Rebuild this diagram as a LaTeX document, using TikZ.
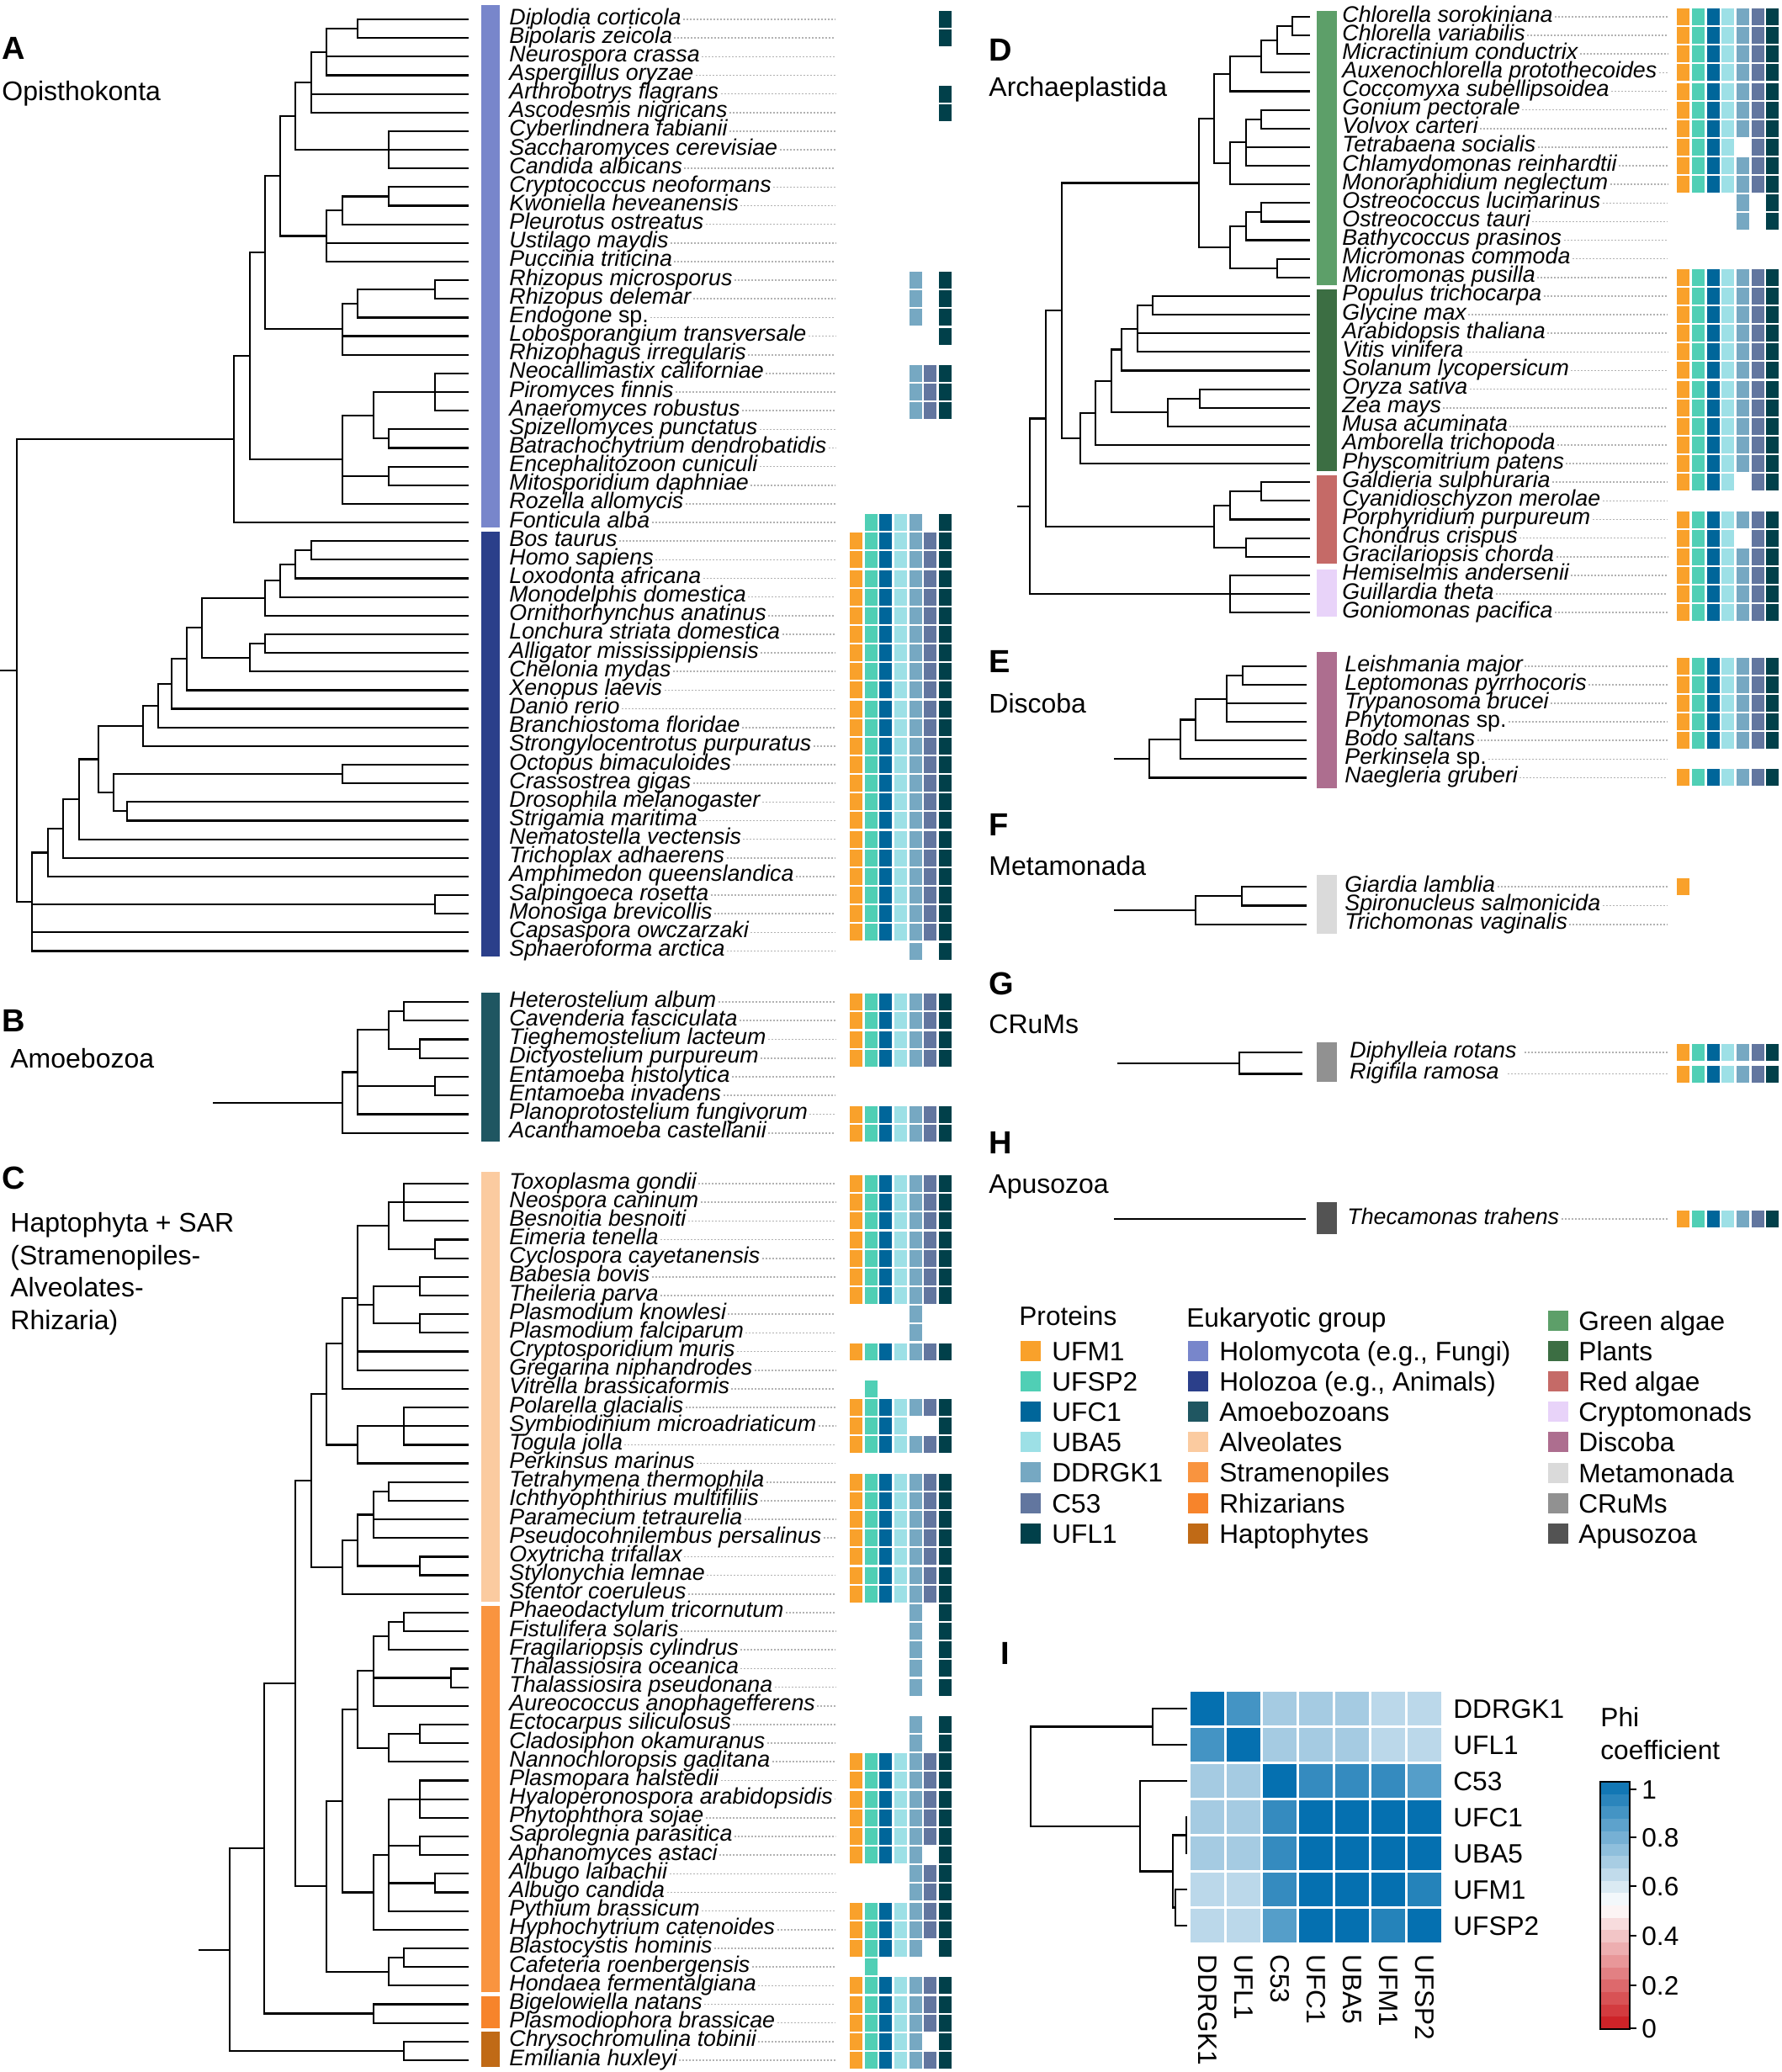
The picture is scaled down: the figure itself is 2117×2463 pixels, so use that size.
\documentclass[tikz,border=0pt]{standalone}
\usepackage{fontspec}
\setmainfont{Liberation Sans}
\usetikzlibrary{calc}
% protein colours
\definecolor{prot0}{HTML}{F9A12B}
\definecolor{prot1}{HTML}{50CFB5}
\definecolor{prot2}{HTML}{00669A}
\definecolor{prot3}{HTML}{9DE0E6}
\definecolor{prot4}{HTML}{76A8C2}
\definecolor{prot5}{HTML}{62769F}
\definecolor{prot6}{HTML}{01404A}
% group colours
\definecolor{grHolo}{HTML}{7886CB}
\definecolor{grZoa}{HTML}{2B3F8A}
\definecolor{grAmoeba}{HTML}{1F5661}
\definecolor{grAlv}{HTML}{FBCBA0}
\definecolor{grStram}{HTML}{F9943F}
\definecolor{grRhiz}{HTML}{F7842B}
\definecolor{grHapto}{HTML}{C06A16}
\definecolor{grGreen}{HTML}{5D9F69}
\definecolor{grPlant}{HTML}{3C6E43}
\definecolor{grRed}{HTML}{C56A67}
\definecolor{grCrypto}{HTML}{E8D3F9}
\definecolor{grDisc}{HTML}{AD6E8F}
\definecolor{grMeta}{HTML}{DADADA}
\definecolor{grCrum}{HTML}{919191}
\definecolor{grApu}{HTML}{535353}
\definecolor{hmblue}{HTML}{0570B0}
\definecolor{hmred}{HTML}{CB181D}
\tikzset{
    branch/.style={draw=black, line width=1.1pt},
    leader/.style={draw=gray!60, line width=0.8pt, dash pattern=on 1pt off 1pt},
    taxon/.style={anchor=base west, inner xsep=1pt, inner ysep=0pt,
        font=\fontsize{13.4}{13.4}\selectfont\itshape},
    panel/.style={anchor=base west, inner sep=0pt, font=\fontsize{19}{19}\selectfont\bfseries},
    grouphead/.style={anchor=base west, inner sep=0pt, font=\fontsize{16}{16}\selectfont},
    legtext/.style={anchor=base west, inner sep=0pt, font=\fontsize{15.8}{15.8}\selectfont}
}
% one presence cell, one row of cells
\newcommand\cellbox[1]{\fill[prot#1] (\cx+#1*17.67,\yy-10) rectangle ++(15,20);}
\newcommand\cellrow[7]{\ifnum#1=1 \cellbox{0}\fi\ifnum#2=1 \cellbox{1}\fi\ifnum#3=1 \cellbox{2}\fi
  \ifnum#4=1 \cellbox{3}\fi\ifnum#5=1 \cellbox{4}\fi\ifnum#6=1 \cellbox{5}\fi\ifnum#7=1 \cellbox{6}\fi}
% taxa: prefix, y0, dy, tip x, label x, leader end, first cell x, list
\newcommand\taxa[8]{%
  \foreach \tx/\bits [count=\i from 0] in {#8}{%
    \pgfmathsetmacro\yy{#2+\i*#3}%
    \coordinate (#1\i) at (#4,\yy);
    \node[taxon] (t#1\i) at (#5,\yy+6) {\tx};
    \draw[leader] (t#1\i.east |- #1\i) -- (#6,\yy);
    \def\cx{#7}%
    \expandafter\cellrow\bits
  }}
% clade: name, x, children
\newcommand\clade[3]{%
  \foreach \cc [count=\n] in {#3}{\ifnum\n=1 \xdef\firstc{\cc}\fi\xdef\lastc{\cc}}%
  \coordinate (#1x) at (#2,0);
  \path (\firstc) -- coordinate[pos=.5] (#1m) (\lastc);
  \coordinate (#1) at (#1x |- #1m);
  \foreach \cc in {#3}{\draw[branch] (#1) |- (\cc);}%
}
\newcommand\stem[2]{\coordinate (#1sx) at (#2,0); \coordinate (#1s) at (#1 -| #1sx); \draw[branch] (#1) -- (#1s);}

\begin{document}
\begin{tikzpicture}[x=0.5pt, y=-0.5pt]
\fill[white] (0,0) rectangle (2117,2463);
\useasboundingbox (0,0) rectangle (2117,2463);

% Panel headings
\node[panel] (pA) at (2,70) {A};
\node[grouphead] (gA) at (2,119) {Opisthokonta};
\node[panel] (pB) at (2,1226) {B};
\node[grouphead] (gB) at (12,1269) {Amoebozoa};
\node[panel] (pC) at (2,1413) {C};
\foreach \t [count=\k from 0] in {{Haptophyta + SAR},{(Stramenopiles-},{Alveolates-},{Rhizaria)}}
  \node[grouphead] (gC\k) at (12,1464.6+\k*38.5) {\t};
\node[panel] (pD) at (1175,72) {D};
\node[grouphead] (gD) at (1175,114) {Archaeplastida};
\node[panel] (pE) at (1175,799) {E};
\node[grouphead] (gE) at (1175,847) {Discoba};
\node[panel] (pF) at (1175,993) {F};
\node[grouphead] (gF) at (1175,1040) {Metamonada};
\node[panel] (pG) at (1175,1182) {G};
\node[grouphead] (gG) at (1175,1228) {CRuMs};
\node[panel] (pH) at (1175,1371) {H};
\node[grouphead] (gH) at (1175,1418) {Apusozoa};
\node[panel] (pI) at (1189,1978) {I};

% Group strips
\fill[grHolo] (572,6) rectangle (594,627);
\fill[grZoa] (572,632) rectangle (594,1137);
\fill[grAmoeba] (572,1180) rectangle (594,1357);
\fill[grAlv] (572,1393) rectangle (594,1904);
\fill[grStram] (572,1909) rectangle (594,2368);
\fill[grRhiz] (572,2373) rectangle (594,2411);
\fill[grHapto] (572,2415) rectangle (594,2457);
\fill[grGreen] (1565,13) rectangle (1589,339);
\fill[grPlant] (1565,344) rectangle (1589,560);
\fill[grRed] (1565,565) rectangle (1589,670);
\fill[grCrypto] (1565,677) rectangle (1589,733);
\fill[grDisc] (1565,775) rectangle (1589,937);
\fill[grMeta] (1565,1040) rectangle (1589,1110);
\fill[grCrum] (1565,1239) rectangle (1589,1286);
\fill[grApu] (1565,1429) rectangle (1589,1467);

% A: Opisthokonta
\taxa{A}{23}{22.15}{557}{603}{993}{1010}{Diplodia corticola/0000001,
Bipolaris zeicola/0000001,
Neurospora crassa/0000000,
Aspergillus oryzae/0000000,
Arthrobotrys flagrans/0000001,
Ascodesmis nigricans/0000001,
Cyberlindnera fabianii/0000000,
Saccharomyces cerevisiae/0000000,
Candida albicans/0000000,
Cryptococcus neoformans/0000000,
Kwoniella heveanensis/0000000,
Pleurotus ostreatus/0000000,
Ustilago maydis/0000000,
Puccinia triticina/0000000,
Rhizopus microsporus/0000101,
Rhizopus delemar/0000101,
Endogone \textup{sp.}/0000101,
Lobosporangium transversale/0000001,
Rhizophagus irregularis/0000000,
Neocallimastix californiae/0000111,
Piromyces finnis/0000111,
Anaeromyces robustus/0000111,
Spizellomyces punctatus/0000000,
Batrachochytrium dendrobatidis/0000000,
Encephalitozoon cuniculi/0000000,
Mitosporidium daphniae/0000000,
Rozella allomycis/0000000,
Fonticula alba/0111101,
Bos taurus/1111111,
Homo sapiens/1111111,
Loxodonta africana/1111111,
Monodelphis domestica/1111111,
Ornithorhynchus anatinus/1111111,
Lonchura striata domestica/1111111,
Alligator mississippiensis/1111111,
Chelonia mydas/1111111,
Xenopus laevis/1111111,
Danio rerio/1111111,
Branchiostoma floridae/1111111,
Strongylocentrotus purpuratus/1111111,
Octopus bimaculoides/1111111,
Crassostrea gigas/1111111,
Drosophila melanogaster/1111111,
Strigamia maritima/1111111,
Nematostella vectensis/1111111,
Trichoplax adhaerens/1111111,
Amphimedon queenslandica/1111111,
Salpingoeca rosetta/1111111,
Monosiga brevicollis/1111111,
Capsaspora owczarzaki/1111111,
Sphaeroforma arctica/0000101}
\clade{a1}{425}{A0,A1}
\clade{a2}{388}{a1,A2,A3}
\clade{a3}{370}{a2,A4,A5}
\clade{a4}{462}{A6,A7,A8}
\clade{a5}{351}{a3,a4}
\clade{a6}{462}{A9,A10}
\clade{a7}{407}{a6,A11}
\clade{a8}{388}{a7,A12,A13}
\clade{a9}{333}{a5,a8}
\clade{a10}{517}{A14,A15}
\clade{a11}{425}{a10,A16}
\clade{a12}{407}{a11,A17,A18}
\clade{a13}{315}{a9,a12}
\clade{a14}{517}{A19,A20,A21}
\clade{a15}{462}{A22,A23}
\clade{a16}{444}{a14,a15}
\clade{a17}{462}{A24,A25}
\clade{a18}{407}{a16,a17,A26}
\clade{a19}{297}{a13,a18}
\clade{a20}{278}{a19,A27}
\clade{h1}{370}{A28,A29}
\clade{h2}{351}{h1,A30}
\clade{h3}{333}{h2,A31}
\clade{h4}{315}{h3,A32}
\clade{h5}{315}{A33,A34}
\clade{h6}{297}{h5,A35}
\clade{h7}{240}{h4,h6}
\clade{h8}{222}{h7,A36}
\clade{h9}{204}{h8,A37}
\clade{h10}{188}{h9,A38}
\clade{h11}{170}{h10,A39}
\clade{h12}{407}{A40,A41}
\clade{h13}{151}{A42,A43}
\clade{h14}{135}{h12,h13}
\clade{h15}{117}{h11,h14}
\clade{h16}{94}{h15,A44}
\clade{h17}{75}{h16,A45}
\clade{h18}{57}{h17,A46}
\clade{h19}{517}{A47,A48}
\clade{h20}{38}{h18,h19,A49,A50}
\clade{aroot}{20}{a20,h20}
\stem{aroot}{0}

% B: Amoebozoa
\taxa{B}{1191}{22.25}{557}{603}{993}{1010}{Heterostelium album/1111111,
Cavenderia fasciculata/1111111,
Tieghemostelium lacteum/1111111,
Dictyostelium purpureum/1111111,
Entamoeba histolytica/0000000,
Entamoeba invadens/0000000,
Planoprotostelium fungivorum/1111111,
Acanthamoeba castellanii/1111111}
\clade{b1}{480}{B0,B1}
\clade{b2}{499}{B2,B3}
\clade{b3}{462}{b1,b2}
\clade{b4}{517}{B4,B5}
\clade{b5}{425}{b3,b4,B6}
\clade{b6}{407}{b5,B7}
\stem{b6}{253}

% C: Haptophyta + SAR
\taxa{C}{1407}{22.17}{557}{603}{993}{1010}{Toxoplasma gondii/1111111,
Neospora caninum/1111111,
Besnoitia besnoiti/1111111,
Eimeria tenella/1111111,
Cyclospora cayetanensis/1111111,
Babesia bovis/1111111,
Theileria parva/1111111,
Plasmodium knowlesi/0000100,
Plasmodium falciparum/0000100,
Cryptosporidium muris/1111111,
Gregarina niphandrodes/0000000,
Vitrella brassicaformis/0100000,
Polarella glacialis/1111111,
Symbiodinium microadriaticum/1111001,
Togula jolla/1111111,
Perkinsus marinus/0000000,
Tetrahymena thermophila/1111111,
Ichthyophthirius multifiliis/1111111,
Paramecium tetraurelia/1111111,
Pseudocohnilembus persalinus/1111111,
Oxytricha trifallax/1111111,
Stylonychia lemnae/1111111,
Stentor coeruleus/1111111,
Phaeodactylum tricornutum/0000101,
Fistulifera solaris/0000101,
Fragilariopsis cylindrus/0000101,
Thalassiosira oceanica/0000101,
Thalassiosira pseudonana/0000101,
Aureococcus anophagefferens/0000000,
Ectocarpus siliculosus/0000101,
Cladosiphon okamuranus/0000101,
Nannochloropsis gaditana/1111111,
Plasmopara halstedii/1111111,
Hyaloperonospora arabidopsidis/1111111,
Phytophthora sojae/1111111,
Saprolegnia parasitica/1111111,
Aphanomyces astaci/1111101,
Albugo laibachii/0000111,
Albugo candida/0000111,
Pythium brassicum/1111111,
Hyphochytrium catenoides/1111111,
Blastocystis hominis/1111101,
Cafeteria roenbergensis/0100000,
Hondaea fermentalgiana/1111111,
Bigelowiella natans/1111111,
Plasmodiophora brassicae/1111111,
Chrysochromulina tobinii/1111101,
Emiliania huxleyi/1111111}
\clade{c1}{480}{C0,C1,C2}
\clade{c2}{517}{C3,C4}
\clade{c3}{462}{c1,c2}
\clade{c4}{499}{C5,C6}
\clade{c5}{499}{C7,C8}
\clade{c6}{444}{c4,c5}
\clade{c7}{425}{c3,c6,C9,C10}
\clade{c8}{407}{c7,C11}
\clade{c9}{480}{C12,C13,C14}
\clade{c10}{425}{c9,C15}
\clade{c11}{388}{c8,c10}
\clade{c12}{462}{C16,C17}
\clade{c13}{444}{c12,C18,C19}
\clade{c14}{499}{C20,C21}
\clade{c15}{425}{c13,c14}
\clade{c16}{407}{c15,C22}
\clade{c17}{370}{c11,c16}
\clade{c18}{480}{C23,C24}
\clade{c19}{462}{c18,C25}
\clade{c20}{536}{C26,C27}
\clade{c21}{444}{c19,c20,C28}
\clade{c22}{499}{C29,C30}
\clade{c23}{462}{c22,C31}
\clade{c24}{425}{c21,c23}
\clade{c25}{499}{C32,C33,C34}
\clade{c26}{499}{C35,C36}
\clade{c27}{517}{C37,C38}
\clade{c28}{462}{c25,c26,c27,C39}
\clade{c29}{444}{c28,C40}
\clade{c30}{407}{c24,c29}
\clade{c31}{480}{C41,C42}
\clade{c32}{462}{c31,C43}
\clade{c33}{388}{c30,c32}
\clade{c34}{351}{c17,c33}
\clade{c35}{444}{C44,C45}
\clade{c36}{314}{c34,c35}
\clade{c37}{480}{C46,C47}
\clade{c38}{273}{c36,c37}
\stem{c38}{236}

% D: Archaeplastida
\taxa{D}{20}{22.13}{1557}{1593}{1982}{1993.3}{Chlorella sorokiniana/1111111,
Chlorella variabilis/1111111,
Micractinium conductrix/1111111,
Auxenochlorella protothecoides/1111111,
Coccomyxa subellipsoidea/1111111,
Gonium pectorale/1111111,
Volvox carteri/1111111,
Tetrabaena socialis/1111011,
Chlamydomonas reinhardtii/1111111,
Monoraphidium neglectum/1111111,
Ostreococcus lucimarinus/0000101,
Ostreococcus tauri/0000101,
Bathycoccus prasinos/0000000,
Micromonas commoda/0000000,
Micromonas pusilla/1111111,
Populus trichocarpa/1111111,
Glycine max/1111111,
Arabidopsis thaliana/1111111,
Vitis vinifera/1111111,
Solanum lycopersicum/1111111,
Oryza sativa/1111111,
Zea mays/1111111,
Musa acuminata/1111111,
Amborella trichopoda/1111111,
Physcomitrium patens/1111111,
Galdieria sulphuraria/1111011,
Cyanidioschyzon merolae/0000000,
Porphyridium purpureum/1111111,
Chondrus crispus/1111011,
Gracilariopsis chorda/1111111,
Hemiselmis andersenii/1111111,
Guillardia theta/1111111,
Goniomonas pacifica/1111111}
\clade{d1}{1536}{D0,D1}
\clade{d2}{1518}{d1,D2}
\clade{d3}{1499}{d2,D3}
\clade{d4}{1462}{d3,D4}
\clade{d5}{1499}{D5,D6}
\clade{d6}{1481}{d5,D7,D8}
\clade{d7}{1462}{d6,D9}
\clade{d8}{1443}{d4,d7}
\clade{d9}{1499}{D10,D11}
\clade{d10}{1481}{d9,D12}
\clade{d11}{1518}{D13,D14}
\clade{d12}{1462}{d10,d11}
\clade{d13}{1425}{d8,d12}
\clade{d14}{1370}{D15,D16}
\clade{d15}{1352}{d14,D17,D18}
\clade{d16}{1333}{d15,D19}
\clade{d17}{1426}{D20,D21}
\clade{d18}{1388}{d17,D22}
\clade{d19}{1321}{d16,d18}
\clade{d20}{1302}{d19,D23}
\clade{d21}{1284}{d20,D24}
\clade{d22}{1262}{d13,d21}
\clade{d23}{1499}{D25,D26}
\clade{d24}{1462}{d23,D27}
\clade{d25}{1481}{D28,D29}
\clade{d26}{1443}{d24,d25}
\clade{d27}{1243}{d22,d26}
\clade{d28}{1462}{D30,D31,D32}
\clade{d29}{1224}{d27,d28}
\stem{d29}{1209}

% E-H: small groups
\taxa{E}{792}{22.07}{1553}{1596}{1982}{1993.3}{Leishmania major/1111111,
Leptomonas pyrrhocoris/1111111,
Trypanosoma brucei/1111111,
Phytomonas \textup{sp.}/1111111,
Bodo saltans~/1111111,
Perkinsela \textup{sp.}~/0000000,
Naegleria gruberi/1111111}
\clade{e1}{1477}{E0,E1}
\clade{e2}{1458}{e1,E2,E3}
\clade{e3}{1421}{e2,E4}
\clade{e4}{1403}{e3,E5}
\clade{e5}{1366}{e4,E6}
\stem{e5}{1324}
\taxa{F}{1054}{22.4}{1553}{1596}{1982}{1993.3}{Giardia lamblia~/1000000,
Spironucleus salmonicida/0000000,
Trichomonas vaginalis/0000000}
\clade{f1}{1476}{F0,F1}
\clade{f2}{1421}{f1,F2}
\stem{f2}{1324}
\taxa{G}{1251}{25.5}{1548}{1602}{1982}{1993.3}{Diphylleia rotans~~/1111111,
Rigifila ramosa~~/1111111}
\clade{g1}{1473}{G0,G1}
\stem{g1}{1328}
\taxa{H}{1449}{0}{1552}{1599}{1982}{1993.3}{Thecamonas trahens~/1111111}
\stem{H0}{1324}

% Legend
\node[legtext] (lgP) at (1211,1575) {Proteins};
\node[legtext] (lgG) at (1410,1577) {Eukaryotic group};
\foreach \lab [count=\k from 0] in {UFM1,UFSP2,UFC1,UBA5,DDRGK1,C53,UFL1}{
  \fill[prot\k] (1213,1594+\k*36.1) rectangle ++(24,24);
  \node[legtext] (lp\k) at (1250,1617.5+\k*36.1) {\lab};
}
\foreach \lab/\col [count=\k from 0] in {{Holomycota (e.g., Fungi)}/grHolo,{Holozoa (e.g., Animals)}/grZoa,
  Amoebozoans/grAmoeba,Alveolates/grAlv,Stramenopiles/grStram,Rhizarians/grRhiz,Haptophytes/grHapto}{
  \fill[\col] (1412,1594+\k*36.1) rectangle ++(24,24);
  \node[legtext] (lg\k) at (1449,1617.5+\k*36.1) {\lab};
}
\foreach \lab/\col [count=\k from 0] in {Green algae/grGreen,Plants/grPlant,Red algae/grRed,
  Cryptomonads/grCrypto,Discoba/grDisc,Metamonada/grMeta,CRuMs/grCrum,Apusozoa/grApu}{
  \fill[\col] (1840,1558+\k*36.1) rectangle ++(24,24);
  \node[legtext] (lh\k) at (1876,1581.5+\k*36.1) {\lab};
}

% I: Phi coefficient heatmap
\foreach \vals [count=\rw from 0] in {{100,75,36,36,36,27,27},{75,100,36,36,36,27,27},
  {36,36,100,81,81,81,68},{36,36,81,100,100,100,100},{36,36,81,100,100,100,100},
  {27,27,81,100,100,100,87},{27,27,68,100,100,87,100}}{
  \foreach \p [count=\cl from 0] in \vals
    \fill[hmblue!\p!white] (1415+\cl*43,2011+\rw*43) rectangle ++(40,40);
}
\foreach \lab [count=\rw from 0] in {DDRGK1,UFL1,C53,UFC1,UBA5,UFM1,UFSP2}{
  \coordinate (K\rw) at (1411,2031+\rw*43);
  \node[legtext] (hr\rw) at (1727,2042.5+\rw*43) {\lab};
  \node[legtext, anchor=west, rotate=-90] (hc\rw) at (1435+\rw*43,2323) {\lab};
}
\clade{k1}{1370}{K0,K1}
\clade{k2}{1410}{K3,K4}
\clade{k3}{1397}{K5,K6}
\clade{k4}{1394}{k2,k3}
\clade{k5}{1355}{K2,k4}
\clade{k6}{1225}{k1,k5}

% colour scale
\foreach \j in {0,...,19}{
  \pgfmathsetmacro\v{(\j+0.5)/20}
  \pgfmathsetmacro\pr{abs(\v-0.5)*200}
  \ifdim\v pt<0.5pt \def\base{hmred}\else\def\base{hmblue}\fi
  \fill[\base!\pr!white] (1902,2412-\j*14.7-14.7) rectangle (1937,2412-\j*14.7);
}
\draw[line width=1pt] (1902,2118) rectangle (1937,2412);
\foreach \tl/\ty [count=\k from 0] in {1/2127,0.8/2184,0.6/2242,0.4/2301,0.2/2360,0/2411}{
  \draw[line width=1pt] (1937,\ty) -- (1945,\ty);
  \node[legtext] (tick\k) at (1951,\ty+11.5) {\tl};
}
\node[legtext] (phi1) at (1902,2052) {Phi};
\node[legtext] (phi2) at (1902,2091) {coefficient};

\end{tikzpicture}
\end{document}
